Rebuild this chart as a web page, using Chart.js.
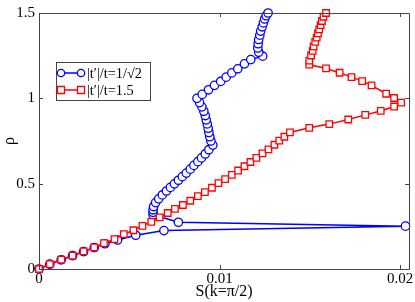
<!DOCTYPE html>
<html><head><meta charset="utf-8">
<script src="https://cdn.jsdelivr.net/npm/chart.js@4"></script>
<style>html,body{margin:0;padding:0;background:#fff}#wrap{width:415px;height:302px;position:relative}</style>
</head><body><div id="wrap"><canvas id="c"></canvas></div>
<script>
const xTicks = [0, 0.01, 0.02];
const yTicks = [0, 0.5, 1, 1.5];
const xTickLabels = ['0', '0.01', '0.02'];
const yTickLabels = ['0', '0.5', '1', '1.5'];
const blueLabel = '|t\u2032|/t=1/\u221A2';
const redLabel = '|t\u2032|/t=1.5';

const blueS = [0,0.0006,0.00123,0.00186,0.00247,0.00306,0.00365,0.00435,0.00536,0.00692,0.0203,0.00772,
  0.00632,0.00632,0.00632,0.00635,0.00646,0.00663,0.00683,0.00706,0.00728,0.0075,0.00772,0.00794,0.00816,0.00838,0.00858,0.0088,0.009,0.00921,0.00941,0.00963,
  0.00952,0.00946,0.00941,0.00937,0.00932,0.00926,0.00921,0.00913,0.00902,0.00889,0.00875,
  0.00904,0.00939,0.00972,0.01006,0.01037,0.01068,0.01101,0.01138,0.01173,0.01239,
  0.01217,0.01212,0.01214,0.01217,0.01223,0.01228,0.01236,0.01243,0.0125,0.01258,0.01269];
const blueRho = [0,0.028,0.054,0.078,0.102,0.125,0.148,0.17,0.198,0.225,0.251,0.274,
  0.318,0.332,0.347,0.366,0.389,0.411,0.434,0.457,0.478,0.499,0.52,0.541,0.562,0.585,0.607,0.629,0.651,0.674,0.699,0.726,
  0.75,0.775,0.8,0.825,0.85,0.874,0.899,0.924,0.95,0.975,1.0,
  1.023,1.05,1.076,1.099,1.124,1.149,1.173,1.202,1.227,1.247,
  1.27,1.295,1.32,1.345,1.37,1.394,1.419,1.442,1.465,1.484,1.5];

const redS = [0,0.0006,0.00123,0.00186,0.00247,0.00306,0.0036,0.00418,0.0047,0.00523,0.00573,0.00622,0.00668,0.00713,0.00753,0.00797,
  0.00838,0.0088,0.00919,0.00958,0.00994,0.01031,0.01068,0.01103,0.01138,0.01171,0.01204,0.01238,0.01271,0.01304,0.01331,0.01359,0.0139,
  0.01497,0.01608,0.01713,0.01807,0.01893,0.01967,0.02006,
  0.01967,0.01923,0.01842,0.0179,0.01731,0.01665,0.0159,0.01497,
  0.01497,0.01507,0.01516,0.01521,0.0153,0.01538,0.01545,0.01552,0.0156,0.01567,0.01576,0.0159];
const redRho = [0,0.029,0.055,0.078,0.103,0.127,0.152,0.175,0.204,0.227,0.253,0.276,0.303,0.328,0.352,0.375,
  0.4,0.427,0.451,0.476,0.503,0.527,0.552,0.577,0.602,0.627,0.651,0.678,0.701,0.728,0.752,0.775,0.8,
  0.827,0.849,0.876,0.903,0.926,0.952,0.975,
  1.002,1.027,1.076,1.101,1.124,1.15,1.175,1.198,
  1.221,1.251,1.278,1.305,1.331,1.356,1.381,1.404,1.429,1.453,1.478,1.5];

const toPts = (xs, ys) => xs.map((x, i) => ({x: x, y: ys[i]}));
const BLUE = '#0000ff', RED = '#ff0000';
const FONT = "'Liberation Serif', 'Times New Roman', serif";

const frame = {
  id: 'frame',
  afterDraw(chart) {
    const ctx = chart.ctx, a = chart.chartArea;
    const xs = chart.scales.x, ys = chart.scales.y;
    ctx.save();
    ctx.strokeStyle = '#444';
    ctx.lineWidth = 1;
    ctx.beginPath();
    ctx.rect(Math.round(a.left) + 0.5, Math.round(a.top) + 0.5, Math.round(a.right - a.left), Math.round(a.bottom - a.top));
    const L = 4;
    xTicks.forEach(v => {
      const px = Math.round(xs.getPixelForValue(v)) + 0.5;
      ctx.moveTo(px, a.bottom); ctx.lineTo(px, a.bottom - L);
      ctx.moveTo(px, a.top); ctx.lineTo(px, a.top + L);
    });
    yTicks.forEach(v => {
      const py = Math.round(ys.getPixelForValue(v)) + 0.5;
      ctx.moveTo(a.left, py); ctx.lineTo(a.left + L, py);
      ctx.moveTo(a.right, py); ctx.lineTo(a.right - L, py);
    });
    ctx.stroke();

    // legend
    const bx = 56.5, by = 62.5, bw = 94, bh = 38;
    ctx.fillStyle = '#fff';
    ctx.fillRect(bx, by, bw, bh);
    ctx.strokeStyle = '#444';
    ctx.lineWidth = 1;
    ctx.strokeRect(bx, by, bw, bh);
    const rows = [
      {y: 73, color: BLUE, style: 'circle', label: blueLabel},
      {y: 90, color: RED, style: 'rect', label: redLabel}
    ];
    rows.forEach(r => {
      ctx.strokeStyle = r.color;
      ctx.lineWidth = 1.5;
      ctx.beginPath(); ctx.moveTo(61, r.y); ctx.lineTo(81, r.y); ctx.stroke();
      [61, 81].forEach(px => {
        ctx.fillStyle = '#fff';
        ctx.strokeStyle = r.color;
        ctx.lineWidth = 1.3;
        ctx.beginPath();
        if (r.style === 'circle') ctx.arc(px, r.y, 3.7, 0, Math.PI * 2);
        else ctx.rect(px - 3.5, r.y - 3.5, 7, 7);
        ctx.fill(); ctx.stroke();
      });
      ctx.fillStyle = '#000';
      ctx.font = '14.3px ' + FONT;
      ctx.textBaseline = 'middle';
      ctx.textAlign = 'left';
      ctx.fillText(r.label, 87, r.y + 1);
    });
    ctx.restore();
  }
};

Chart.defaults.font.family = FONT;
Chart.defaults.font.size = 15;
Chart.defaults.color = '#000';

new Chart(document.getElementById('c'), {
  type: 'scatter',
  data: {
    datasets: [
      {label: redLabel, data: toPts(redS, redRho), showLine: true, borderColor: RED, borderWidth: 1.5,
       pointStyle: 'rect', pointRadius: 4.6, pointBorderWidth: 1.3, pointBackgroundColor: '#fff', pointBorderColor: RED,
       clip: false, order: 0},
      {label: blueLabel, data: toPts(blueS, blueRho), showLine: true, borderColor: BLUE, borderWidth: 1.5,
       pointStyle: 'circle', pointRadius: 4.2, pointBorderWidth: 1.3, pointBackgroundColor: '#fff', pointBorderColor: BLUE,
       clip: false, order: 1}
    ]
  },
  options: {
    responsive: true,
    maintainAspectRatio: false,
    animation: false,
    events: [],
    layout: {padding: {top: 6, right: 5, left: 0, bottom: 0}},
    plugins: {legend: {display: false}, tooltip: {enabled: false}},
    scales: {
      x: {
        type: 'linear', min: 0, max: 0.0205,
        grid: {display: false, drawTicks: false}, border: {display: false},
        afterBuildTicks: s => { s.ticks = xTicks.map(v => ({value: v})); },
        afterFit: s => { s.height = 33; },
        ticks: {padding: 1, maxRotation: 0, callback: (v, i) => xTickLabels[i]},
        title: {display: true, text: 'S(k=\u03C0/2)', font: {size: 16}, padding: {top: 0, bottom: 1}}
      },
      y: {
        type: 'linear', min: 0, max: 1.5,
        grid: {display: false, drawTicks: false}, border: {display: false},
        afterBuildTicks: s => { s.ticks = yTicks.map(v => ({value: v})); },
        afterFit: s => { s.width = 39; },
        ticks: {padding: 4, callback: (v, i) => yTickLabels[i]},
        title: {display: true, text: '\u03C1', font: {size: 16}, padding: {top: 0, bottom: 0}}
      }
    }
  },
  plugins: [frame]
});
</script></body></html>
